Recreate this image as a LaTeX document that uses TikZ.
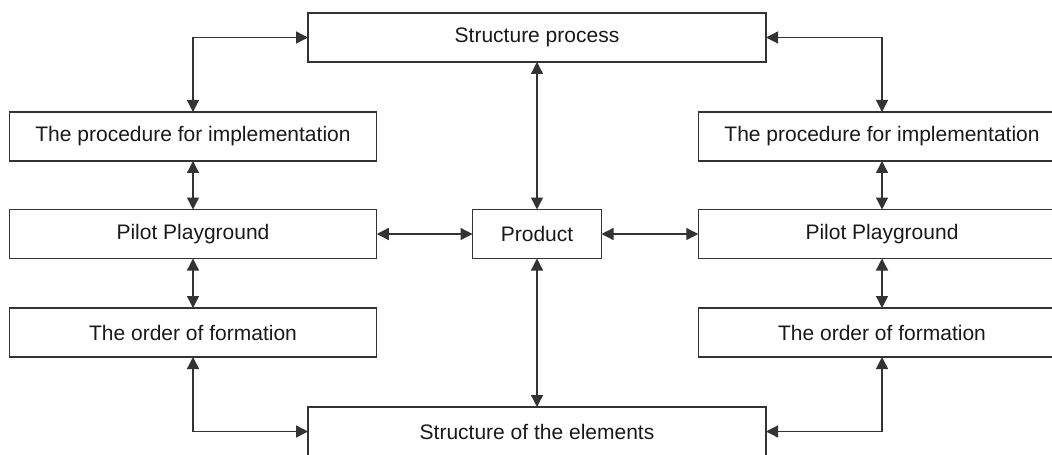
\documentclass[tikz,border=0pt]{standalone}
\usepackage{fontspec}
\setmainfont{Liberation Sans}
\usetikzlibrary{arrows.meta, positioning}

\begin{document}
\begin{tikzpicture}[
    x=0.5pt, y=-0.5pt,
    box/.style={draw=black!80, line width=0.65pt, inner sep=0pt, outer sep=0pt,
        minimum height=24.5pt, text=black!90, font=\fontsize{10.5}{12}\selectfont},
    wide/.style={box, minimum width=229pt},
    side/.style={box, minimum width=183.75pt},
    link/.style={{Triangle[length=6pt,width=6pt]}-{Triangle[length=6pt,width=6pt]},
        line width=0.65pt, draw=black!80},
]
\useasboundingbox (0,0) rectangle (1052,454);

\node[wide] (proc) at (537,37.5) {Structure process};
\node[wide] (elem) at (537,431.5) {Structure of the elements};
\node[box, minimum width=64.5pt] (prod) at (537,234) {Product};

% left and right columns
\foreach \s/\x in {l/193, r/882} {
    \node[side] (\s impl) at (\x,136.5) {The procedure for implementation};
    \node[side] (\s pilot) at (\x,234) {Pilot Playground};
    \node[side] (\s order) at (\x,332.5) {The order of formation};
    \draw[link] (\s impl) -- (\s pilot);
    \draw[link] (\s pilot) -- (\s order);
    \draw[link] (\s pilot) -- (prod);
    \draw[link] (proc) -| (\s impl);
    \draw[link] (\s order) |- (elem);
}

\draw[link] (proc) -- (prod);
\draw[link] (prod) -- (elem);
\end{tikzpicture}
\end{document}
